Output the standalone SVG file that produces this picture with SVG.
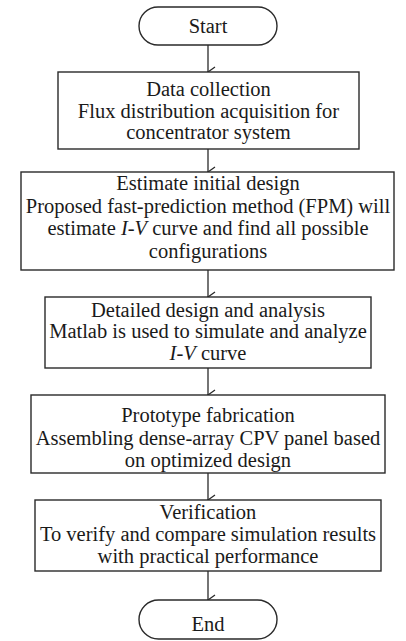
<svg xmlns="http://www.w3.org/2000/svg" width="406" height="641" viewBox="0 0 406 641">
<style>
.box{fill:#fff;stroke:#2a2a2a;stroke-width:1.4}
.c{stroke:#2a2a2a;stroke-width:1.3;fill:none}
</style>
<defs>
<marker id="ah" markerWidth="12" markerHeight="10" refX="6" refY="8" orient="auto" markerUnits="userSpaceOnUse" viewBox="0 0 12 10">
<path d="M1,1 L6,8 L11,1" fill="none" stroke="#2a2a2a" stroke-width="1.3"/>
</marker>
</defs>
<rect width="406" height="641" fill="#fff"/>
<g id="connectors">
<line class="c" x1="208" y1="45" x2="208" y2="72" marker-end="url(#ah)"/>
<line class="c" x1="208" y1="149" x2="208" y2="172" marker-end="url(#ah)"/>
<line class="c" x1="208" y1="270" x2="208" y2="297" marker-end="url(#ah)"/>
<line class="c" x1="208" y1="368" x2="208" y2="395" marker-end="url(#ah)"/>
<line class="c" x1="208" y1="473" x2="208" y2="500" marker-end="url(#ah)"/>
<line class="c" x1="208" y1="571" x2="208" y2="600" marker-end="url(#ah)"/>
</g>
<g font-family="Liberation Serif, serif" font-size="20.5" fill="#1a1a1a" text-anchor="middle">
<g id="start">
<rect class="box" x="139" y="7" width="138" height="38" rx="19" ry="19"/>
<text x="208" y="33">Start</text>
</g>
<g id="data-collection">
<rect class="box" x="58" y="72" width="301" height="77"/>
<text x="208.5" y="96">Data collection</text>
<text x="208.5" y="117.5">Flux distribution acquisition for</text>
<text x="208.5" y="139">concentrator system</text>
</g>
<g id="estimate">
<rect class="box" x="21" y="172" width="373" height="98"/>
<text x="208" y="190">Estimate initial design</text>
<text x="208" y="212.5">Proposed fast-prediction method (FPM) will</text>
<text x="208" y="235">estimate <tspan font-style="italic">I-V</tspan> curve and find all possible</text>
<text x="208" y="258">configurations</text>
</g>
<g id="detailed">
<rect class="box" x="45" y="297" width="326" height="71"/>
<text x="208" y="317">Detailed design and analysis</text>
<text x="208" y="338">Matlab is used to simulate and analyze</text>
<text x="208" y="360"><tspan font-style="italic">I-V</tspan> curve</text>
</g>
<g id="prototype">
<rect class="box" x="31" y="395" width="354" height="78"/>
<text x="208" y="422">Prototype fabrication</text>
<text x="208" y="445">Assembling dense-array CPV panel based</text>
<text x="208" y="467">on optimized design</text>
</g>
<g id="verification">
<rect class="box" x="35" y="500" width="346" height="71"/>
<text x="208" y="519">Verification</text>
<text x="208" y="541">To verify and compare simulation results</text>
<text x="208" y="563">with practical performance</text>
</g>
<g id="end">
<rect class="box" x="139" y="600" width="138" height="39" rx="19.5" ry="19.5"/>
<text x="208" y="631">End</text>
</g>
</g>
</svg>
